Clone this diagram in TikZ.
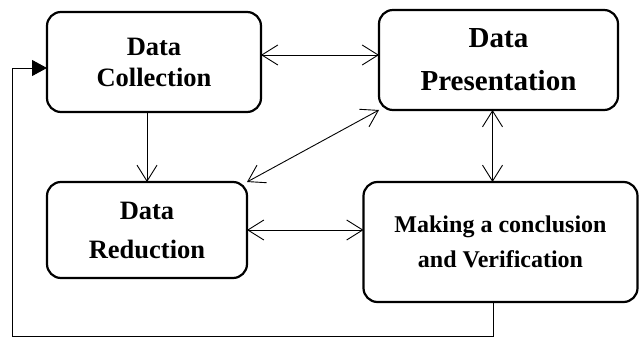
\documentclass[tikz,border=0pt]{standalone}
\usepackage{fontspec}
\setmainfont{Liberation Serif}
\usetikzlibrary{arrows.meta}
\begin{document}
\begin{tikzpicture}[x=1pt,y=-1pt,
  stage/.style={draw, rectangle, rounded corners=14pt, line width=2.2pt,
    align=center, inner sep=0pt, outer sep=0pt, font=\bfseries},
  link/.style={line width=0.9pt, {Straight Barb[length=16pt,width=20pt]}-{Straight Barb[length=16pt,width=20pt]}},
  onelink/.style={line width=0.9pt, -{Straight Barb[length=16pt,width=20pt]}},
  loopback/.style={line width=0.9pt, -{Triangle[length=15pt,width=16pt]}}]
\useasboundingbox (0,0) rectangle (640,339);

\node[stage, minimum width=214pt, minimum height=100pt,
  font=\bfseries\fontsize{26.5}{31}\selectfont] (A) at (154,62) {Data\\Collection};
\node[stage, minimum width=239pt, minimum height=100pt,
  font=\bfseries\fontsize{29}{43}\selectfont] (B) at (498.5,60) {Data\\Presentation};
\node[stage, minimum width=200pt, minimum height=96pt,
  font=\bfseries\fontsize{26.5}{39}\selectfont] (C) at (147,230) {Data\\Reduction};
\node[stage, minimum width=274pt, minimum height=120pt,
  font=\bfseries\fontsize{24}{35}\selectfont] (D) at (500.5,242) {Making a conclusion\\and Verification};

\coordinate (fb) at (12,336);

\draw[link] ([yshift=7pt]A.east) -- ([yshift=7pt]A.east -| B.west);
\draw[onelink] (A.south -| C.north) -- (C.north);
\draw[link] (C.north east) -- (B.south west);
\draw[link] ([xshift=-6pt]B.south) -- ([xshift=-6pt]B.south |- D.north);
\draw[link] (C.east) -- (C.east -| D.west);
\draw[loopback] ([xshift=-7.5pt]D.south) |- (fb) |- ([yshift=-6pt]A.west);
\end{tikzpicture}
\end{document}
